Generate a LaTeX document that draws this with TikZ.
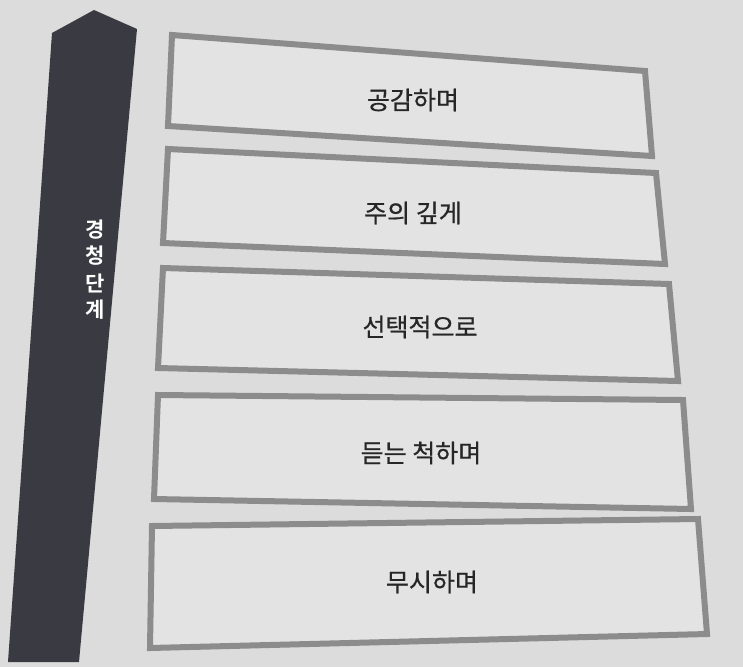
\documentclass[tikz,border=0pt]{standalone}
\usepackage{fontspec}
\setmainfont{Noto Sans CJK KR}[FakeBold=0.6]
\newfontfamily\krbold{Noto Sans CJK KR Bold}
\definecolor{paper}{HTML}{DCDCDC}
\definecolor{boxline}{HTML}{8C8C8C}
\definecolor{boxfill}{HTML}{E3E3E3}
\definecolor{stem}{HTML}{3A3A42}
\tikzset{
  stagebox/.style={draw=boxline, fill=boxfill, line width=6pt, line join=miter},
  stagetext/.style={inner sep=0pt, font=\fontsize{25}{30}\selectfont, text=black!85},
}
\begin{document}
\begin{tikzpicture}[x=1pt, y=-1pt]
\fill [paper] (0,0) rectangle (743,667);
\useasboundingbox (0,0) rectangle (743,667);
% arrow
\fill [stem] (94,10) -- (137,29) -- (79,662) -- (8,662) -- (52,33) -- cycle;
\node [inner sep=0pt, align=center, text=white, font=\krbold\fontsize{21}{26}\selectfont] (steps) at (95,270) {경\\청\\[2pt]단\\계};
% stages
\draw [stagebox] (172,35) -- (645,71) -- (652,156) -- (168,126) -- cycle;
\node [stagetext] (empathic) at (413,100) {공감하며};
\draw [stagebox] (168,149) -- (656,173) -- (665,264) -- (163,243) -- cycle;
\node [stagetext] (attentive) at (413,213) {주의 깊게};
\draw [stagebox] (163,268) -- (669,284) -- (678,381) -- (158,368) -- cycle;
\node [stagetext] (selective) at (420,327) {선택적으로};
\draw [stagebox] (158,395) -- (683,400) -- (691,509) -- (154,499) -- cycle;
\node [stagetext] (pretending) at (421,453) {듣는 척하며};
\draw [stagebox] (152,526) -- (698,519) -- (707,634) -- (150,648) -- cycle;
\node [stagetext] (ignoring) at (432,582) {무시하며};
\end{tikzpicture}
\end{document}
